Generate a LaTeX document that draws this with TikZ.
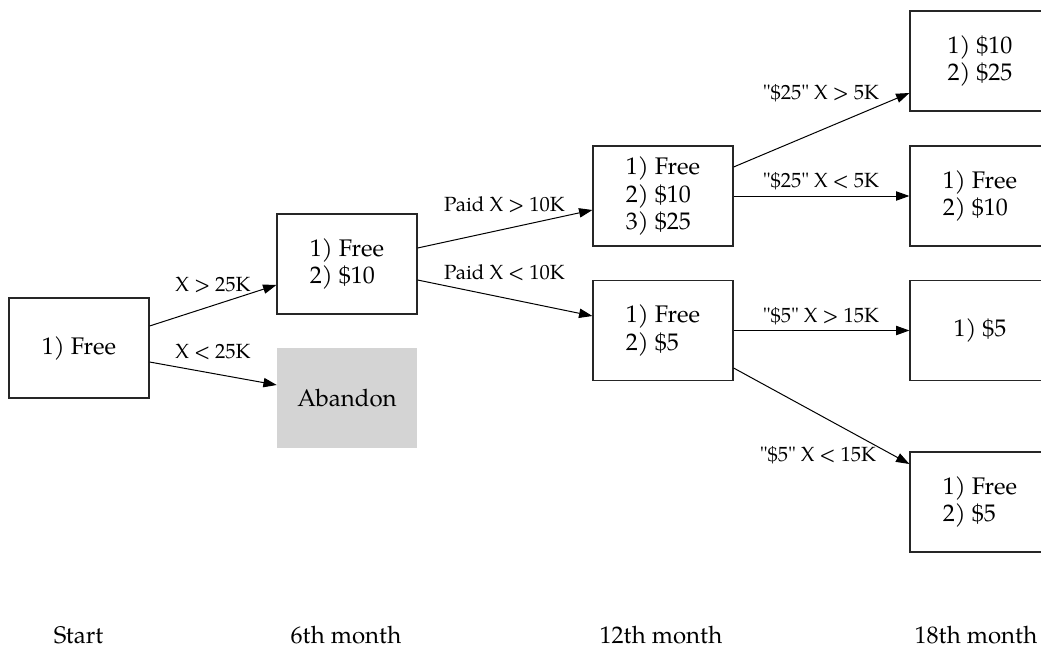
\documentclass[tikz,border=0pt]{standalone}
\usepackage{fontspec}
\setmainfont{TeX Gyre Pagella}
\newfontfamily\pagplain{TeX Gyre Pagella}
\usetikzlibrary{arrows.meta,calc}
\begin{document}
\begin{tikzpicture}[x=0.75pt,y=-0.75pt,
  box/.style={draw=black!85,line width=0.9pt,minimum width=105pt,minimum height=75pt,inner sep=0pt,align=left,font=\fontsize{18}{20.6}\selectfont},
  gone/.style={fill=black!17,draw=none,minimum width=105pt,minimum height=75pt,inner sep=0pt,font=\fontsize{18}{20.6}\selectfont},
  lbl/.style={anchor=base,inner sep=0pt,font=\pagplain\fontsize{15.4}{18}\selectfont},
  stage/.style={anchor=base,inner sep=0pt,font=\fontsize{18}{20.6}\selectfont},
  conn/.style={draw=black,line width=0.75pt,-{Triangle[length=10pt,width=7pt]}}]
\useasboundingbox (0,0) rectangle (1041,646);
\clip (0,0) rectangle (1041,646);
\fill[white] (0,0) rectangle (1041,646);
% nodes
\node[box] (s) at (79,348) {1) Free};
\node[box] (m6) at (347,264) {1) Free\\2) \$10};
\node[gone] (ab) at (347,398) {Abandon};
\node[box] (m12a) at (663,196) {1) Free\\2) \$10\\3) \$25};
\node[box] (m12b) at (663,330.5) {1) Free\\2) \$5};
\node[box] (m18a) at (980,61) {1) \$10\\2) \$25};
\node[box] (m18b) at (980,196) {1) Free\\2) \$10};
\node[box] (m18c) at (980,330.5) {1) \$5};
\node[box] (m18d) at (980,502) {1) Free\\2) \$5};
% connectors
\draw[conn] ($(s.east)+(0,-22)$) -- ($(m6.west)+(0,21)$);
\draw[conn] ($(s.east)+(0,14)$) -- ($(ab.west)+(0,-13)$);
\draw[conn] ($(m6.east)+(0,-16)$) -- ($(m12a.west)+(0,14)$);
\draw[conn] ($(m6.east)+(0,16)$) -- ($(m12b.west)+(0,-14.5)$);
\draw[conn] ($(m12a.east)+(0,-29)$) -- ($(m18a.west)+(0,32)$);
\draw[conn] (m12a.east) -- (m18b.west);
\draw[conn] (m12b.east) -- (m18c.west);
\draw[conn] ($(m12b.east)+(0,37.5)$) -- ($(m18d.west)+(0,-38)$);
% labels
\node[lbl] (l1) at (213,291) {X > 25K};
\node[lbl] (l2) at (213,358) {X < 25K};
\node[lbl] (l3) at (504.5,211) {Paid X > 10K};
\node[lbl] (l4) at (504.5,279) {Paid X < 10K};
\node[lbl] (l5) at (821,99) {"\$25" X > 5K};
\node[lbl] (l6) at (821,187) {"\$25" X < 5K};
\node[lbl] (l7) at (821,322) {"\$5" X > 15K};
\node[lbl] (l8) at (818,461) {"\$5" X < 15K};
% stages
\node[stage] (t0) at (78.5,643.5) {Start};
\node[stage] (t1) at (346,643.5) {6th month};
\node[stage] (t2) at (661,643.5) {12th month};
\node[stage] (t3) at (976,643.5) {18th month};
\end{tikzpicture}
\end{document}
